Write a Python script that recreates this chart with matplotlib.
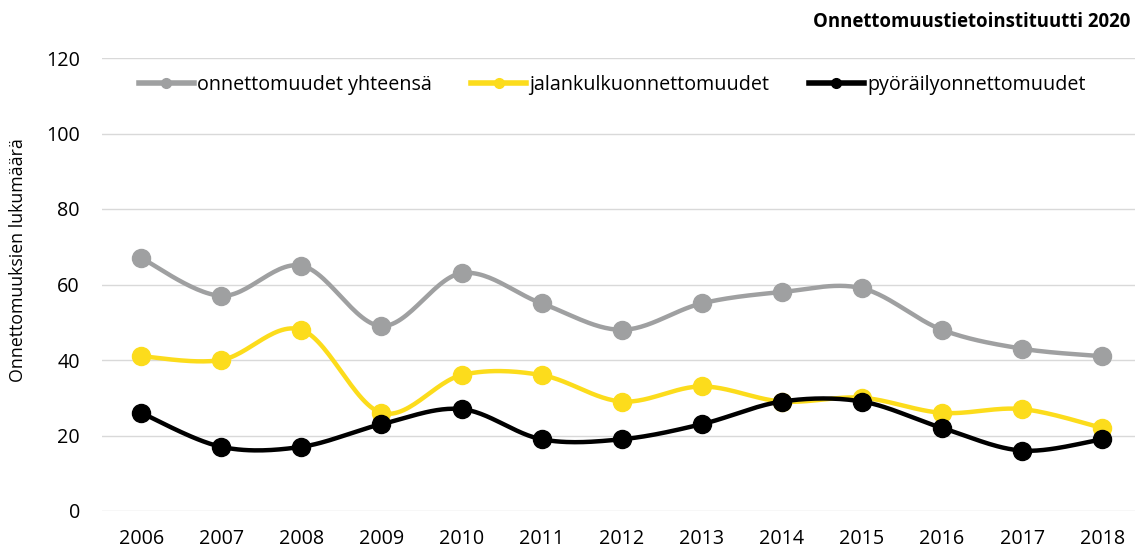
import numpy as np
import matplotlib
matplotlib.use("Agg")
import matplotlib.pyplot as plt
from matplotlib.lines import Line2D

years = ["2006", "2007", "2008", "2009", "2010", "2011", "2012",
         "2013", "2014", "2015", "2016", "2017", "2018"]
total = [67, 57, 65, 49, 63, 55, 48, 55, 58, 59, 48, 43, 41]
pedestrian = [41, 40, 48, 26, 36, 36, 29, 33, 29, 30, 26, 27, 22]
cycling = [26, 17, 17, 23, 27, 19, 19, 23, 29, 29, 22, 16, 19]

series_names = ["onnettomuudet yhteensä", "jalankulkuonnettomuudet", "pyöräilyonnettomuudet"]
colors = ["#9FA0A1", "#FCDC1C", "#000000"]

plt.rcParams['font.family'] = ['Open Sans', 'DejaVu Sans']


def smooth(xs, ys, n=30):
    xs = np.asarray(xs, float)
    ys = np.asarray(ys, float)
    px = np.concatenate([[xs[0]], xs, [xs[-1]]])
    py = np.concatenate([[ys[0]], ys, [ys[-1]]])
    outx, outy = [], []
    t = np.linspace(0, 1, n)
    for i in range(1, len(px) - 2):
        p0x, p1x, p2x, p3x = px[i - 1], px[i], px[i + 1], px[i + 2]
        p0y, p1y, p2y, p3y = py[i - 1], py[i], py[i + 1], py[i + 2]
        c1x = p1x + (p2x - p0x) / 6
        c1y = p1y + (p2y - p0y) / 6
        c2x = p2x - (p3x - p1x) / 6
        c2y = p2y - (p3y - p1y) / 6
        bx = (1 - t) ** 3 * p1x + 3 * (1 - t) ** 2 * t * c1x + 3 * (1 - t) * t ** 2 * c2x + t ** 3 * p2x
        by = (1 - t) ** 3 * p1y + 3 * (1 - t) ** 2 * t * c1y + 3 * (1 - t) * t ** 2 * c2y + t ** 3 * p2y
        outx.append(bx)
        outy.append(by)
    return np.concatenate(outx), np.concatenate(outy)


W, H = 1135, 551
fig = plt.figure(figsize=(W / 100, H / 100), dpi=100)
ax = fig.add_axes([102 / W, 40 / H, (W - 102) / W, (511 - 58) / H])

x = np.arange(len(years))
for i, (vals, col) in enumerate(zip([total, pedestrian, cycling], colors)):
    sx, sy = smooth(x, vals)
    ax.plot(sx, sy, color=col, lw=3.2, zorder=3 + i, solid_capstyle='round')
    ax.plot(x, vals, 'o', color=col, ms=13, zorder=3 + i)

ax.set_xlim(-0.49, 12.41)
ax.set_ylim(0, 120)
ax.set_yticks(range(0, 121, 20))
ax.set_xticks(x)
ax.set_xticklabels(years)
ax.grid(axis='y', color='#D9D9D9', lw=1)
ax.set_axisbelow(True)
for s in ax.spines.values():
    s.set_visible(False)
ax.tick_params(length=0, labelsize=14.2, colors='#000000')
ax.tick_params(axis='x', pad=13)
ax.tick_params(axis='y', pad=16)

fig.text(18 / W, 1 - 260 / H, "Onnettomuuksien lukumäärä", rotation=90, ha='center', va='center',
         fontsize=12.8)

handles = [Line2D([], [], color=c, lw=4, marker='o', ms=7) for c in colors]
fig.legend(handles, series_names, loc='center', bbox_to_anchor=(612 / W, 1 - 85 / H),
           ncol=3, frameon=False, fontsize=14.2, handlelength=2.8, handletextpad=0.15,
           columnspacing=2.0)

fig.text(1130 / W, 1 - 22 / H, "Onnettomuustietoinstituutti 2020", ha='right', va='center',
         fontsize=13.4, fontweight='bold')

fig.savefig("out.png", dpi=100)
